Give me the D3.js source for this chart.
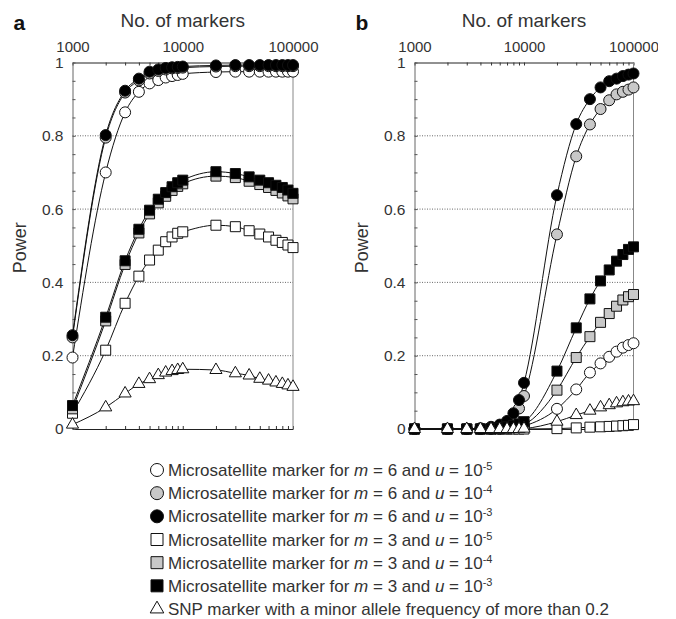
<!DOCTYPE html>
<html>
<head>
<meta charset="utf-8">
<script src="https://cdn.jsdelivr.net/npm/d3@7"></script>
<style>
	body { margin: 0; background: #fff; }
	text { font-family: "Liberation Sans", Arial, sans-serif; }
</style>
</head>
<body>
<svg id="chart" width="676" height="619"></svg>
<script>
// number of markers (x positions of every point)
const markers = [1000, 2000, 3000, 4000, 5000, 6000, 7000, 8000, 9000, 10000,
	20000, 30000, 40000, 50000, 60000, 70000, 80000, 90000, 100000];

// panel a
const aMs6u5 = [0.195, 0.70, 0.864, 0.92, 0.943, 0.952, 0.959, 0.963, 0.966, 0.969, 0.974, 0.975, 0.975, 0.975, 0.975, 0.975, 0.975, 0.975, 0.975];
const aMs6u4 = [0.25, 0.795, 0.918, 0.951, 0.97, 0.977, 0.981, 0.984, 0.985, 0.986, 0.989, 0.99, 0.99, 0.99, 0.99, 0.99, 0.99, 0.99, 0.99];
const aMs6u3 = [0.256, 0.802, 0.923, 0.956, 0.975, 0.981, 0.985, 0.987, 0.988, 0.989, 0.992, 0.993, 0.993, 0.993, 0.993, 0.993, 0.993, 0.993, 0.993];
const aMs3u5 = [0.043, 0.215, 0.343, 0.417, 0.461, 0.488, 0.511, 0.524, 0.534, 0.538, 0.556, 0.552, 0.541, 0.532, 0.524, 0.515, 0.509, 0.502, 0.495];
const aMs3u4 = [0.055, 0.295, 0.449, 0.535, 0.587, 0.617, 0.635, 0.651, 0.662, 0.669, 0.69, 0.686, 0.676, 0.667, 0.659, 0.651, 0.644, 0.636, 0.628];
const aMs3u3 = [0.064, 0.305, 0.459, 0.545, 0.597, 0.627, 0.645, 0.661, 0.672, 0.679, 0.702, 0.697, 0.688, 0.679, 0.672, 0.665, 0.659, 0.652, 0.643];
const aSnp = [0.012, 0.059, 0.097, 0.123, 0.136, 0.147, 0.154, 0.158, 0.161, 0.163, 0.161, 0.152, 0.146, 0.137, 0.132, 0.127, 0.123, 0.119, 0.115];

// panel b
const bMs6u5 = [0, 0, 0, 0, 0, 0, 0.001, 0.002, 0.004, 0.008, 0.055, 0.108, 0.154, 0.179, 0.197, 0.211, 0.222, 0.229, 0.234];
const bMs6u4 = [0, 0, 0, 0, 0.002, 0.005, 0.012, 0.028, 0.056, 0.09, 0.531, 0.744, 0.831, 0.873, 0.897, 0.913, 0.92, 0.926, 0.932];
const bMs6u3 = [0, 0, 0, 0.002, 0.006, 0.012, 0.022, 0.043, 0.079, 0.126, 0.638, 0.832, 0.90, 0.932, 0.949, 0.956, 0.963, 0.967, 0.970];
const bMs3u5 = [0, 0, 0, 0, 0, 0, 0, 0, 0, 0, 0.001, 0.003, 0.005, 0.006, 0.007, 0.008, 0.009, 0.01, 0.012];
const bMs3u4 = [0, 0, 0, 0, 0, 0.001, 0.002, 0.004, 0.007, 0.012, 0.106, 0.195, 0.252, 0.291, 0.315, 0.335, 0.352, 0.361, 0.367];
const bMs3u3 = [0, 0, 0, 0, 0.001, 0.003, 0.006, 0.01, 0.014, 0.02, 0.158, 0.276, 0.355, 0.404, 0.434, 0.458, 0.476, 0.49, 0.497];
const bSnp = [0, 0, 0, 0, 0, 0, 0, 0, 0, 0.001, 0.02, 0.038, 0.05, 0.059, 0.065, 0.07, 0.073, 0.075, 0.076];

const xTickLabels = [1000, 10000, 100000];
const yTickLabels = [0, 0.2, 0.4, 0.6, 0.8, 1];

// legend: [m, exponent of u]
const legendM = [6, 6, 6, 3, 3, 3];
const legendU = ["-5", "-4", "-3", "-5", "-4", "-3"];
const snpLabel = "SNP marker with a minor allele frequency of more than 0.2";

// marker style per series (same order as the arrays above)
const shapes = ["circle", "circle", "circle", "square", "square", "square", "triangle"];
const fills = ["#fff", "#c8c8c8", "#000", "#fff", "#c8c8c8", "#000", "#fff"];

const svg = d3.select("#chart");
const ink = "#333";

const symbolType = {circle: d3.symbolCircle, square: d3.symbolSquare, triangle: d3.symbolTriangle};
const symbolSize = {circle: 95, square: 100, triangle: 64};

function drawPanel(series, letter, left, right, clipRight) {
	const top = 62.5, bottom = 429;
	const x = d3.scaleLog().domain([1000, 100000]).range([left, right]);
	const y = d3.scaleLinear().domain([0, 1]).range([bottom, top]);

	const g = svg.append("g");

	// dotted grid
	g.selectAll(".grid")
		.data([0.2, 0.4, 0.6, 0.8])
		.enter()
		.append("line")
		.attr("x1", left).attr("x2", right)
		.attr("y1", d => y(d)).attr("y2", d => y(d))
		.attr("stroke", "#444")
		.attr("stroke-width", 0.8)
		.attr("stroke-dasharray", "1,1.5");

	// log ticks, all multiples
	const logTicks = x.ticks();
	const fmtX = d => xTickLabels.includes(d) ? String(d) : "";

	// top axis with labels
	const topAxis = g.append("g")
		.attr("transform", `translate(0,${top})`)
		.call(d3.axisTop(x).tickValues(logTicks).tickFormat(fmtX).tickSizeInner(-3).tickSizeOuter(0).tickPadding(10.5));
	topAxis.select(".domain").attr("stroke", "#222");
	topAxis.selectAll(".tick line").attr("stroke", "#333");
	topAxis.selectAll("text").attr("font-size", 15).attr("fill", ink);
	if (clipRight) {
		const id = "clip" + letter;
		svg.append("clipPath").attr("id", id)
			.append("rect").attr("x", 0).attr("y", -100).attr("width", clipRight).attr("height", 700);
		topAxis.attr("clip-path", `url(#${id})`);
	}

	// bottom axis, ticks only
	const botAxis = g.append("g")
		.attr("transform", `translate(0,${bottom})`)
		.call(d3.axisBottom(x).tickValues(logTicks).tickFormat("").tickSizeInner(-3).tickSizeOuter(0));
	botAxis.select(".domain").attr("stroke", "#222");
	botAxis.selectAll(".tick line").attr("stroke", "#333");

	// left axis
	const yTicks = d3.range(0, 21).map(i => i / 20);
	const fmtY = d => {
		const hit = yTickLabels.find(v => Math.abs(v - d) < 1e-9);
		if (hit === undefined) return "";
		return hit === 0 || hit === 1 ? String(hit) : hit.toFixed(1);
	};
	const leftAxis = g.append("g")
		.attr("transform", `translate(${left},0)`)
		.call(d3.axisLeft(y).tickValues(yTicks).tickFormat(fmtY).tickSizeInner(-3).tickSizeOuter(0).tickPadding(9));
	leftAxis.select(".domain").attr("stroke", "#666");
	leftAxis.selectAll(".tick line").attr("stroke", "#555");
	leftAxis.selectAll("text").attr("font-size", 15.5).attr("fill", ink);

	// right frame line
	g.append("line")
		.attr("x1", right).attr("x2", right)
		.attr("y1", top).attr("y2", bottom)
		.attr("stroke", "#888");

	// titles
	g.append("text")
		.attr("x", (left + right) / 2).attr("y", 27)
		.attr("text-anchor", "middle")
		.attr("font-size", 19)
		.attr("fill", ink)
		.text("No. of markers");

	g.append("text")
		.attr("transform", `translate(${left - 47},${(top + bottom) / 2 + 2}) rotate(-90)`)
		.attr("text-anchor", "middle")
		.attr("font-size", 18)
		.attr("fill", ink)
		.text("Power");

	g.append("text")
		.attr("x", left - 59).attr("y", 30)
		.attr("font-size", 21)
		.attr("font-weight", "bold")
		.attr("fill", "#111")
		.text(letter);

	// curves
	const line = d3.line()
		.x(d => x(d[0]))
		.y(d => y(d[1]))
		.curve(d3.curveMonotoneX);

	series.forEach(vals => {
		g.append("path")
			.attr("d", line(markers.map((m, i) => [m, vals[i]])))
			.attr("fill", "none")
			.attr("stroke", "#111")
			.attr("stroke-width", 1);
	});

	// markers
	series.forEach((vals, s) => {
		const sym = d3.symbol().type(symbolType[shapes[s]]).size(symbolSize[shapes[s]]);
		g.selectAll(null)
			.data(markers.map((m, i) => [m, vals[i]]))
			.enter()
			.append("path")
			.attr("d", sym)
			.attr("transform", d => `translate(${x(d[0])},${y(d[1])})`)
			.attr("fill", fills[s])
			.attr("stroke", "#111")
			.attr("stroke-width", 1);
	});
}

drawPanel([aMs6u5, aMs6u4, aMs6u3, aMs3u5, aMs3u4, aMs3u3, aSnp], "a", 72.5, 293, null);
drawPanel([bMs6u5, bMs6u4, bMs6u3, bMs3u5, bMs3u4, bMs3u3, bSnp], "b", 414.5, 633.5, 658);

// legend
const legend = svg.append("g");
const rowY = d3.scaleLinear().domain([0, 6]).range([470, 609]);
const legendSize = {circle: 133, square: 144, triangle: 80};

shapes.forEach((shape, i) => {
	const cy = rowY(i);
	legend.append("path")
		.attr("d", d3.symbol().type(symbolType[shape]).size(legendSize[shape]))
		.attr("transform", `translate(157,${cy})`)
		.attr("fill", fills[i])
		.attr("stroke", "#111")
		.attr("stroke-width", 1);

	const t = legend.append("text")
		.attr("x", 168).attr("y", cy + 6)
		.attr("font-size", 17)
		.attr("fill", ink);

	if (i < 6) {
		t.append("tspan").text("Microsatellite marker for ");
		t.append("tspan").attr("font-style", "italic").text("m");
		t.append("tspan").text(` = ${legendM[i]} and `);
		t.append("tspan").attr("font-style", "italic").text("u");
		t.append("tspan").text(" = 10");
		t.append("tspan").attr("font-size", 11).attr("dy", -6).text(legendU[i]);
	} else {
		t.text(snpLabel);
	}
});
</script>
</body>
</html>
